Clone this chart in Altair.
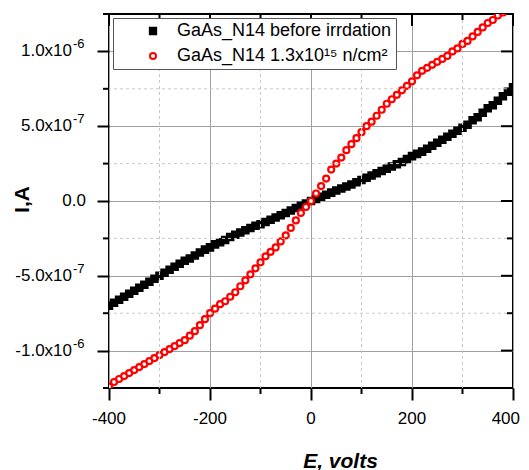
import altair as alt
import pandas as pd

# ---- data (I in units of 1e-6 A) ----
E_volts = list(range(-400, 401, 10))
I_before = [
    -0.70, -0.68, -0.66, -0.64, -0.62, -0.60, -0.58, -0.56, -0.54, -0.52,
    -0.50, -0.48, -0.46, -0.44, -0.42, -0.40, -0.385, -0.365, -0.345, -0.325,
    -0.31, -0.29, -0.275, -0.26, -0.24, -0.225, -0.21, -0.195, -0.18, -0.165,
    -0.155, -0.14, -0.125, -0.11, -0.095, -0.08, -0.063, -0.047, -0.031, -0.016,
    0.0,
    0.014, 0.028, 0.042, 0.056, 0.07, 0.083, 0.097, 0.11, 0.125, 0.14,
    0.155, 0.17, 0.185, 0.20, 0.215, 0.23, 0.245, 0.26, 0.28, 0.30,
    0.315, 0.33, 0.35, 0.37, 0.39, 0.41, 0.43, 0.45, 0.47, 0.49,
    0.51, 0.54, 0.56, 0.59, 0.62, 0.64, 0.67, 0.70, 0.73, 0.76,
]
I_irradiated = [
    -1.24, -1.21, -1.19, -1.17, -1.15, -1.13, -1.11, -1.09, -1.07, -1.05,
    -1.03, -1.01, -0.99, -0.97, -0.95, -0.93, -0.90, -0.87, -0.83, -0.79,
    -0.75, -0.72, -0.69, -0.67, -0.64, -0.61, -0.57, -0.53, -0.49, -0.45,
    -0.41, -0.37, -0.34, -0.31, -0.27, -0.23, -0.18, -0.13, -0.08, -0.04,
    0.0,
    0.05, 0.10, 0.15, 0.21, 0.25, 0.29, 0.34, 0.38, 0.42, 0.46,
    0.50, 0.53, 0.57, 0.61, 0.65, 0.68, 0.71, 0.74, 0.77, 0.80,
    0.84, 0.87, 0.89, 0.91, 0.93, 0.95, 0.97, 1.00, 1.02, 1.05,
    1.07, 1.10, 1.13, 1.16, 1.19, 1.21, 1.24, 1.26, 1.29, 1.32,
]
series_names = ["GaAs_N14 before irrdation", "GaAs_N14 1.3x10\u00b9\u2075 n/cm\u00b2"]

x_major = [-400, -200, 0, 200, 400]
x_minor = [-300, -100, 100, 300]
x_labels = ["-400", "-200", "0", "200", "400"]
y_major = [-1.0, -0.5, 0.0, 0.5, 1.0]
y_minor = [-1.25, -0.75, -0.25, 0.25, 0.75, 1.25]
y_minor_grid = [-0.75, -0.25, 0.25, 0.75]
y_mant = ["-1.0x10", "-5.0x10", "0.0", "5.0x10", "1.0x10"]
y_exp = ["-6", "-7", "", "-7", "-6"]

FONT = "Liberation Sans"
W, H = 404, 374

df = pd.concat([
    pd.DataFrame({"E": E_volts, "I": I_before, "series": series_names[0]}),
    pd.DataFrame({"E": E_volts, "I": I_irradiated, "series": series_names[1]}),
], ignore_index=True)

xs = alt.Scale(domain=[-400, 400], nice=False, zero=False)
ys = alt.Scale(domain=[-1.25, 1.25], nice=False, zero=False)

leg = alt.Legend(
    title=None, orient="none", legendX=4, legendY=4,
    fillColor="white", strokeColor="#555555", padding=4,
    symbolOffset=27, labelFontSize=18, labelFont=FONT, labelColor="black",
    labelOffset=15, rowPadding=7, symbolStrokeWidth=2, labelLimit=400,
)

points = alt.Chart(df).mark_point(strokeWidth=2.2, opacity=1, fillOpacity=1, clip=True).encode(
    x=alt.X("E:Q", scale=xs, axis=alt.Axis(
        values=x_major, tickSize=12, tickWidth=2, tickColor="black", domain=False,
        grid=True, gridColor="#a0a0a0", gridWidth=1, gridDash=[], labels=False,
        title="E, volts", titleFont=FONT, titleFontSize=21, titleFontWeight="bold",
        titleFontStyle="italic", titleColor="black", titleX=231, titleY=79,
        titleAlign="center", titleBaseline="alphabetic")),
    y=alt.Y("I:Q", scale=ys, axis=alt.Axis(
        values=y_major, tickSize=12, tickWidth=2, tickColor="black", domain=False,
        grid=True, gridColor="#a0a0a0", gridWidth=1, gridDash=[], labels=False,
        title="I,A", titleFont=FONT, titleFontSize=21, titleFontWeight="bold",
        titleColor="black", titleX=-87, titleY=185, titleAngle=270,
        titleAlign="center", titleBaseline="middle")),
    shape=alt.Shape("series:N", scale=alt.Scale(domain=series_names, range=["square", "circle"]), legend=leg),
    fill=alt.Fill("series:N", scale=alt.Scale(domain=series_names, range=["black", "white"]), legend=leg),
    stroke=alt.Stroke("series:N", scale=alt.Scale(domain=series_names, range=["black", "red"]), legend=leg),
    size=alt.Size("series:N", scale=alt.Scale(domain=series_names, range=[40, 36]), legend=leg),
)

xminor_df = pd.DataFrame({"E": x_minor})
xmajor_df = pd.DataFrame({"E": x_major, "label": x_labels})
yminor_df = pd.DataFrame({"I": y_minor})
yminorgrid_df = pd.DataFrame({"I": y_minor_grid})
ymajor_df = pd.DataFrame({"I": y_major})

X = lambda: alt.X("E:Q", scale=xs)
Y = lambda: alt.Y("I:Q", scale=ys)

grid_x = alt.Chart(xminor_df).mark_rule(color="#c8c8c8", strokeDash=[3, 3], strokeWidth=1).encode(x=X())
grid_y = alt.Chart(yminorgrid_df).mark_rule(color="#c8c8c8", strokeDash=[3, 3], strokeWidth=1).encode(y=Y())

tick_style = dict(color="black", strokeWidth=2)
bottom_minor = alt.Chart(xminor_df).mark_rule(**tick_style).encode(x=X(), y=alt.value(H), y2=alt.value(H + 6))
top_major = alt.Chart(xmajor_df).mark_rule(**tick_style).encode(x=X(), y=alt.value(0), y2=alt.value(12))
top_minor = alt.Chart(xminor_df).mark_rule(**tick_style).encode(x=X(), y=alt.value(0), y2=alt.value(6))
left_minor = alt.Chart(yminor_df).mark_rule(**tick_style).encode(y=Y(), x=alt.value(0), x2=alt.value(-6))
right_major = alt.Chart(ymajor_df).mark_rule(**tick_style).encode(y=Y(), x=alt.value(W), x2=alt.value(W - 12))
right_minor = alt.Chart(yminor_df).mark_rule(**tick_style).encode(y=Y(), x=alt.value(W), x2=alt.value(W - 6))

# x tick labels (hyphen minus, last one kept inside the page)
xlab_mid = alt.Chart(xmajor_df).transform_filter("datum.E < 400").mark_text(
    align="center", baseline="top", fontSize=17, font=FONT, color="black"
).encode(x=X(), y=alt.value(H + 23), text="label:N")
xlab_end = alt.Chart(xmajor_df).transform_filter("datum.E >= 400").mark_text(
    align="right", baseline="top", fontSize=17, font=FONT, color="black", dx=7
).encode(x=X(), y=alt.value(H + 23), text="label:N")

ylab_df = pd.DataFrame({"I": y_major, "mant": y_mant, "exp": y_exp})
ylab_main = alt.Chart(ylab_df).transform_filter("datum.exp != ''").mark_text(
    align="right", baseline="middle", fontSize=17, font=FONT, color="black"
).encode(y=Y(), x=alt.value(-37), text="mant:N")
ylab_zero = alt.Chart(ylab_df).transform_filter("datum.exp == ''").mark_text(
    align="right", baseline="middle", fontSize=17, font=FONT, color="black"
).encode(y=Y(), x=alt.value(-23), text="mant:N")
ylab_exp = alt.Chart(ylab_df).transform_filter("datum.exp != ''").mark_text(
    align="left", baseline="middle", fontSize=13, font=FONT, color="black", dy=-7
).encode(y=Y(), x=alt.value(-36), text="exp:N")

chart = alt.layer(
    points, grid_x, grid_y,
    bottom_minor, top_major, top_minor, left_minor, right_major, right_minor,
    xlab_mid, xlab_end, ylab_main, ylab_zero, ylab_exp,
).properties(
    width=W, height=H, background="white",
    autosize=alt.AutoSizeParams(type="none"),
    padding={"left": 101, "top": 6, "right": 8, "bottom": 84},
).configure_view(stroke="black", strokeWidth=2)

chart.save("out.html", embed_options={"renderer": "svg", "actions": False})
